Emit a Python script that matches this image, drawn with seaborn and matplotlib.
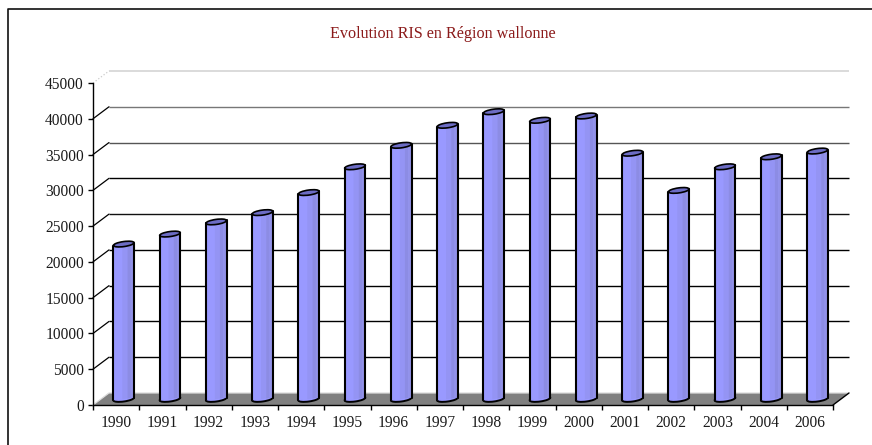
import numpy as np
import pandas as pd
import matplotlib
matplotlib.use("Agg")
import matplotlib.pyplot as plt
import seaborn as sns
from matplotlib.lines import Line2D
from matplotlib.patches import Ellipse, Polygon
from matplotlib.transforms import Affine2D, IdentityTransform

years = ["1990", "1991", "1992", "1993", "1994", "1995", "1996", "1997",
         "1998", "1999", "2000", "2001", "2002", "2003", "2004", "2006"]
beneficiaries = [21650, 23050, 24750, 26050, 28850, 32450, 35450, 38250,
                 40150, 38950, 39550, 34350, 29150, 32450, 33850, 34650]
y_ticks = [0, 5000, 10000, 15000, 20000, 25000, 30000, 35000, 40000, 45000]
grid_colors = ["#808080", "#000000", "#000000", "#000000", "#000000",
               "#111111", "#000000", "#555555", "#777777", "#d8d8d8"]
title = "Evolution RIS en Région wallonne"

W, H = 872, 445
DEPTH_X, DEPTH_Y = 16, 12      # wall depth in pixels
BAR_DX, BAR_DY = 7.6, 6        # bars stand mid-way across the floor
TILT = 8                       # tilt of the cylinder ends, degrees
SERIF = "Liberation Serif"

sns.set_theme(style="white")
plt.rcParams["font.family"] = [SERIF, "DejaVu Serif"]

fig = plt.figure(figsize=(W / 100, H / 100), dpi=100)
ax = fig.add_axes([93 / W, 40 / H, 740 / W, 322 / H])
ax.patch.set_alpha(0)

frame = pd.DataFrame({"year": years, "value": beneficiaries})
sns.barplot(data=frame, x="year", y="value", order=years, color="#9999ff",
            saturation=1, width=0.445, linewidth=0, ax=ax, zorder=4)
ax.set_xlim(-0.5, len(years) - 0.5)
ax.set_ylim(0, 45000)
ax.set_xlabel("")
ax.set_ylabel("")

fig.canvas.draw()
to_px = ax.transData
back = to_px + Affine2D().translate(DEPTH_X, DEPTH_Y)
x_end = len(years) - 0.5

# Back wall lines and their returns to the value axis
for tick, color in zip(y_ticks[1:], grid_colors[1:]):
    top_line = tick == y_ticks[-1]
    ax.plot([-0.5, x_end], [tick, tick], color=color, lw=1.3 if top_line else 1.0,
            transform=back, clip_on=False, zorder=2, solid_capstyle="butt")
    p0 = to_px.transform((-0.5, tick))
    ax.add_line(Line2D([p0[0], p0[0] + DEPTH_X], [p0[1], p0[1] + DEPTH_Y],
                       color="#cccccc" if top_line else "black", lw=0.9,
                       ls=":" if top_line else "-", transform=IdentityTransform(),
                       clip_on=False, zorder=2))

# Floor
a = to_px.transform((-0.5, 0))
b = to_px.transform((x_end, 0))
ax.add_patch(Polygon([a, a + (DEPTH_X, DEPTH_Y), b + (DEPTH_X, DEPTH_Y), b],
                     closed=True, facecolor="#808080", edgecolor="none",
                     transform=IdentityTransform(), clip_on=False, zorder=1))
ax.add_line(Line2D([a[0], a[0] + DEPTH_X, b[0] + DEPTH_X], [a[1], a[1] + DEPTH_Y, b[1] + DEPTH_Y],
                   color="#dcdcdc", lw=0.9, transform=IdentityTransform(),
                   clip_on=False, zorder=1.5))
ax.add_line(Line2D([b[0], b[0] + DEPTH_X], [b[1], b[1] + DEPTH_Y], color="black", lw=1.0,
                   transform=IdentityTransform(), clip_on=False, zorder=3))

# Cylinders: sheared body with darker bands on the right, then end caps
body_w = 0.445
for i, (patch, value) in enumerate(zip(ax.patches[:len(years)], beneficiaries)):
    cx, base = to_px.transform((i, 0))
    shear = (Affine2D().translate(-cx, 0).skew_deg(0, TILT)
             .translate(cx + BAR_DX, BAR_DY))
    t = to_px + shear
    patch.set_transform(t)
    patch.set_clip_on(False)

    # Shading bands, left to right across the cylinder
    for start, width, shade in [(-0.03, 0.11, "#9494f4"),
                                (0.08, 0.075, "#8c8ce4"),
                                (0.155, 0.068, "#9292e8")]:
        ax.bar(i + start, value, width=width, align="edge", color=shade,
               linewidth=0, transform=t, clip_on=False, zorder=4.1)

    # Outline of the sides
    for side in (-body_w / 2, body_w / 2):
        ax.plot([i + side, i + side], [0, value], color="black", lw=1.5,
                transform=t, clip_on=False, zorder=4.3, solid_capstyle="round")

    px, py = to_px.transform((i, value))
    w = body_w * (to_px.transform((1, 0))[0] - to_px.transform((0, 0))[0])
    ax.add_patch(Ellipse((px + BAR_DX, py + BAR_DY), w / np.cos(np.radians(TILT)), 5.0, angle=TILT,
                         facecolor="#6c6cc4", edgecolor="black", lw=1.2,
                         transform=IdentityTransform(), clip_on=False, zorder=4.5))
    ax.add_patch(Ellipse((cx + BAR_DX, base + BAR_DY), w / np.cos(np.radians(TILT)), 5.0, angle=TILT,
                         facecolor="#9999ff", edgecolor="black", lw=1.4,
                         transform=IdentityTransform(), clip_on=False, zorder=3.5))

# Axes
ax.set_yticks(y_ticks)
ax.set_yticklabels([str(v) for v in y_ticks])
ax.set_xticks(range(len(years)))
ax.set_xticklabels(years)
ax.set_xticks(np.arange(-0.5, len(years)), minor=True)
ax.tick_params(axis="x", which="major", length=0, pad=7.3, labelsize=11.2, labelcolor="#1a1a1a")
ax.tick_params(axis="x", which="minor", length=3.5, width=1.0, color="black", bottom=True)
ax.tick_params(axis="y", which="major", length=3.5, width=1.0, color="black", pad=3,
               labelsize=11.2, labelcolor="#1a1a1a", left=True)
ax.grid(False)
sns.despine(ax=ax)
for side in ("left", "bottom"):
    ax.spines[side].set_color("black")
    ax.spines[side].set_linewidth(1.0)
    ax.spines[side].set_zorder(3)

fig.text(443 / W, 1 - 34 / H, title, ha="center", va="center", color="#8b1a1a", fontsize=11.6)

# Chart border, running off the right and bottom of the image
fig.add_artist(Line2D([7.5 / W, 7.5 / W, 1], [0, 1 - 8.5 / H, 1 - 8.5 / H], color="#111111", lw=1.2))

fig.savefig("out.png", dpi=100)
